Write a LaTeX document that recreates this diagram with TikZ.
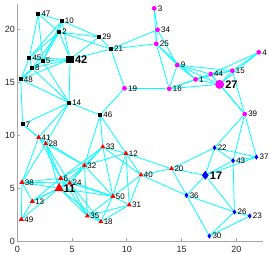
\documentclass[tikz,border=0pt]{standalone}
\usepackage{fontspec}
\setmainfont{Liberation Sans}
\usepackage{tikz}
\usetikzlibrary{shapes.geometric, backgrounds}
\definecolor{linkcyan}{rgb}{0,1,1}
\definecolor{nodemag}{rgb}{1,0,1}
\definecolor{nodered}{rgb}{1,0,0}
\definecolor{nodeblue}{rgb}{0,0,1}

\begin{document}
\begin{tikzpicture}[
  x=10.95pt, y=10.6pt, label distance=0.3pt,
  sqnode/.style={rectangle, fill=black, inner sep=0pt, minimum size=4pt},
  bigsq/.style={sqnode, minimum size=7.5pt},
  circnode/.style={circle, fill=nodemag, inner sep=0pt, minimum size=4.8pt},
  bigcirc/.style={circnode, minimum size=9pt},
  trinode/.style={regular polygon, regular polygon sides=3, fill=nodered, inner sep=0pt, minimum size=6pt},
  bigtri/.style={trinode, minimum size=11pt},
  dianode/.style={diamond, fill=nodeblue, inner sep=0pt, minimum width=4pt, minimum height=5.5pt},
  bigdia/.style={dianode, minimum width=7pt, minimum height=9pt},
  lbl/.style={font=\fontsize{8}{8}\selectfont, inner sep=0.5pt},
  biglbl/.style={font=\fontsize{11}{11}\selectfont\bfseries, inner sep=0.5pt},
  link/.style={linkcyan, line width=0.8pt},
  ticklbl/.style={font=\fontsize{9}{9}\selectfont, inner sep=0pt, text=black!85}
]
\useasboundingbox (-1.58,-1.32) rectangle (22.99,22.74);

% axes
\draw[gray!70, line width=0.6pt] (0,22.36) -- (0,0) -- (22.44,0);
\foreach \t in {0,5,10,15,20} {
  \draw[gray!70, line width=0.6pt] (\t,0) -- (\t,0.25);
  \draw[gray!70, line width=0.6pt] (0,\t) -- (0.23,\t);
  \node[ticklbl] (xt\t) at (\t,-0.75) {\t};
  \node[ticklbl, anchor=east] (yt\t) at (-0.2,\t) {\t};
}

% black squares
\node[sqnode, label={[lbl]right:47}] (n47) at (1.92,21.44) {};
\node[sqnode, label={[lbl]right:10}] (n10) at (4.06,20.78) {};
\node[sqnode, label={[lbl]right:2}]  (n2)  at (3.82,19.72) {};
\node[sqnode, label={[lbl]right:29}] (n29) at (7.47,19.25) {};
\node[sqnode, label={[lbl]right:21}] (n21) at (8.55,18.11) {};
\node[bigsq, label={[biglbl]right:42}] (n42) at (4.82,17.14) {};
\node[sqnode, label={[lbl]right:45}] (n45) at (1.10,17.29) {};
\node[sqnode, label={[lbl]right:5}]  (n5)  at (2.32,16.98) {};
\node[sqnode, label={[lbl]right:8}]  (n8)  at (1.34,16.32) {};
\node[sqnode, label={[lbl]right:48}] (n48) at (0.31,15.25) {};
\node[sqnode, label={[lbl]right:14}] (n14) at (4.73,13.05) {};
\node[sqnode, label={[lbl]right:46}] (n46) at (7.57,11.89) {};
\node[sqnode, label={[lbl]right:7}]  (n7)  at (0.49,11.01) {};

% magenta circles
\node[circnode, label={[lbl]right:19}] (n19) at (9.79,14.41) {};
\node[circnode, label={[lbl]right:3}]  (n3)  at (12.51,21.95) {};
\node[circnode, label={[lbl]right:34}] (n34) at (12.81,19.93) {};
\node[circnode, label={[lbl]right:25}] (n25) at (12.69,18.61) {};
\node[circnode, label={[lbl]right:9}]  (n9)  at (14.61,16.60) {};
\node[circnode, label={[lbl]right:1}]  (n1)  at (16.29,15.25) {};
\node[circnode, label={[lbl]right:44}] (n44) at (17.66,15.75) {};
\node[circnode, label={[lbl]right:15}] (n15) at (19.64,16.07) {};
\node[circnode, label={[lbl]right:4}]  (n4)  at (22.05,17.80) {};
\node[bigcirc, label={[biglbl]right:27}] (n27) at (18.48,14.78) {};
\node[circnode, label={[lbl]right:16}] (n16) at (13.88,14.37) {};
\node[circnode, label={[lbl]right:39}] (n39) at (20.77,11.98) {};

% red triangles
\node[trinode, label={[lbl]right:41}] (n41) at (1.96,9.78) {};
\node[trinode, label={[lbl]right:28}] (n28) at (2.60,9.18) {};
\node[trinode, label={[lbl]right:33}] (n33) at (7.81,8.87) {};
\node[trinode, label={[lbl]right:12}] (n12) at (9.92,8.27) {};
\node[trinode, label={[lbl]right:32}] (n32) at (6.13,7.14) {};
\node[trinode, label={[lbl]right:6}]  (n6)  at (3.97,5.92) {};
\node[trinode, label={[lbl]right:24}] (n24) at (4.79,5.47) {};
\node[trinode, label={[lbl]right:38}] (n38) at (0.43,5.54) {};
\node[bigtri, label={[biglbl]right:11}] (n11) at (3.82,4.97) {};
\node[trinode, label={[lbl]right:50}] (n50) at (8.73,4.22) {};
\node[trinode, label={[lbl]right:31}] (n31) at (10.22,3.40) {};
\node[trinode, label={[lbl]right:13}] (n13) at (1.37,3.75) {};
\node[trinode, label={[lbl]right:35}] (n35) at (6.40,2.36) {};
\node[trinode, label={[lbl]right:18}] (n18) at (7.63,1.82) {};
\node[trinode, label={[lbl]right:49}] (n49) at (0.37,2.05) {};
\node[trinode, label={[lbl]right:40}] (n40) at (11.29,6.23) {};
\node[trinode, label={[lbl]right:20}] (n20) at (14.09,6.82) {};

% blue diamonds
\node[dianode, label={[lbl]right:22}] (n22) at (18.02,8.80) {};
\node[dianode, label={[lbl]right:37}] (n37) at (21.84,7.92) {};
\node[dianode, label={[lbl]right:43}] (n43) at (19.71,7.58) {};
\node[bigdia, label={[biglbl]right:17}] (n17) at (17.17,6.20) {};
\node[dianode, label={[lbl]right:36}] (n36) at (15.46,4.31) {};
\node[dianode, label={[lbl]right:26}] (n26) at (19.83,2.74) {};
\node[dianode, label={[lbl]right:23}] (n23) at (21.23,2.36) {};
\node[dianode, label={[lbl]right:30}] (n30) at (17.54,0.47) {};

% links
\begin{scope}[on background layer]
\draw[link] (n47) -- (n10); \draw[link] (n47) -- (n2); \draw[link] (n47) -- (n45); \draw[link] (n47) -- (n5);
\draw[link] (n10) -- (n2); \draw[link] (n10) -- (n29); \draw[link] (n10) -- (n42); \draw[link] (n10) -- (n45); \draw[link] (n10) -- (n5);
\draw[link] (n2) -- (n29); \draw[link] (n2) -- (n21); \draw[link] (n2) -- (n42); \draw[link] (n2) -- (n45); \draw[link] (n2) -- (n5); \draw[link] (n2) -- (n8);
\draw[link] (n29) -- (n21); \draw[link] (n29) -- (n42);
\draw[link] (n21) -- (n42); \draw[link] (n21) -- (n19); \draw[link] (n21) -- (n25); \draw[link] (n21) -- (n34);
\draw[link] (n42) -- (n45); \draw[link] (n42) -- (n5); \draw[link] (n42) -- (n8); \draw[link] (n42) -- (n48); \draw[link] (n42) -- (n14);
\draw[link] (n45) -- (n5); \draw[link] (n45) -- (n8); \draw[link] (n45) -- (n48);
\draw[link] (n5) -- (n8); \draw[link] (n5) -- (n48); \draw[link] (n5) -- (n14);
\draw[link] (n8) -- (n48); \draw[link] (n8) -- (n14); \draw[link] (n48) -- (n14); \draw[link] (n48) -- (n7);
\draw[link] (n14) -- (n46); \draw[link] (n14) -- (n7); \draw[link] (n14) -- (n41); \draw[link] (n14) -- (n28);
\draw[link] (n19) -- (n46); \draw[link] (n19) -- (n16);
\draw[link] (n46) -- (n33); \draw[link] (n46) -- (n12); \draw[link] (n46) -- (n32);
\draw[link] (n7) -- (n41); \draw[link] (n7) -- (n28);
\draw[link] (n3) -- (n34); \draw[link] (n3) -- (n25); \draw[link] (n34) -- (n25); \draw[link] (n34) -- (n9);
\draw[link] (n25) -- (n9); \draw[link] (n25) -- (n16); \draw[link] (n25) -- (n1);
\draw[link] (n9) -- (n1); \draw[link] (n9) -- (n44); \draw[link] (n9) -- (n15); \draw[link] (n9) -- (n27); \draw[link] (n9) -- (n16);
\draw[link] (n1) -- (n44); \draw[link] (n1) -- (n15); \draw[link] (n1) -- (n27); \draw[link] (n1) -- (n16);
\draw[link] (n44) -- (n15); \draw[link] (n44) -- (n27); \draw[link] (n44) -- (n4); \draw[link] (n44) -- (n16); \draw[link] (n44) -- (n39);
\draw[link] (n15) -- (n4); \draw[link] (n15) -- (n27); \draw[link] (n15) -- (n39);
\draw[link] (n27) -- (n4); \draw[link] (n27) -- (n16); \draw[link] (n27) -- (n39);
\draw[link] (n39) -- (n22); \draw[link] (n39) -- (n43); \draw[link] (n39) -- (n37);
\draw[link] (n41) -- (n28); \draw[link] (n41) -- (n38); \draw[link] (n41) -- (n6); \draw[link] (n41) -- (n32);
\draw[link] (n28) -- (n38); \draw[link] (n28) -- (n6); \draw[link] (n28) -- (n24); \draw[link] (n28) -- (n11); \draw[link] (n28) -- (n32);
\draw[link] (n33) -- (n12); \draw[link] (n33) -- (n32); \draw[link] (n33) -- (n6); \draw[link] (n33) -- (n24); \draw[link] (n33) -- (n50); \draw[link] (n33) -- (n40);
\draw[link] (n12) -- (n32); \draw[link] (n12) -- (n50); \draw[link] (n12) -- (n31); \draw[link] (n12) -- (n40); \draw[link] (n12) -- (n20);
\draw[link] (n32) -- (n6); \draw[link] (n32) -- (n24); \draw[link] (n32) -- (n11); \draw[link] (n32) -- (n50); \draw[link] (n32) -- (n35);
\draw[link] (n6) -- (n24); \draw[link] (n6) -- (n11); \draw[link] (n6) -- (n38); \draw[link] (n6) -- (n13); \draw[link] (n6) -- (n50); \draw[link] (n6) -- (n35);
\draw[link] (n24) -- (n11); \draw[link] (n24) -- (n38); \draw[link] (n24) -- (n13); \draw[link] (n24) -- (n50); \draw[link] (n24) -- (n35); \draw[link] (n24) -- (n18);
\draw[link] (n11) -- (n38); \draw[link] (n11) -- (n13); \draw[link] (n11) -- (n49); \draw[link] (n11) -- (n50); \draw[link] (n11) -- (n35); \draw[link] (n11) -- (n18);
\draw[link] (n38) -- (n13); \draw[link] (n38) -- (n49); \draw[link] (n13) -- (n49);
\draw[link] (n50) -- (n31); \draw[link] (n50) -- (n35); \draw[link] (n50) -- (n18); \draw[link] (n50) -- (n40);
\draw[link] (n35) -- (n18); \draw[link] (n35) -- (n31); \draw[link] (n18) -- (n31); \draw[link] (n31) -- (n40);
\draw[link] (n40) -- (n20); \draw[link] (n40) -- (n36);
\draw[link] (n20) -- (n17); \draw[link] (n20) -- (n36); \draw[link] (n20) -- (n22);
\draw[link] (n17) -- (n22); \draw[link] (n17) -- (n43); \draw[link] (n17) -- (n37); \draw[link] (n17) -- (n36); \draw[link] (n17) -- (n26);
\draw[link] (n22) -- (n43); \draw[link] (n22) -- (n37); \draw[link] (n43) -- (n37); \draw[link] (n43) -- (n26);
\draw[link] (n36) -- (n26); \draw[link] (n36) -- (n30); \draw[link] (n26) -- (n23); \draw[link] (n26) -- (n30); \draw[link] (n23) -- (n30);
\end{scope}
\end{tikzpicture}
\end{document}
